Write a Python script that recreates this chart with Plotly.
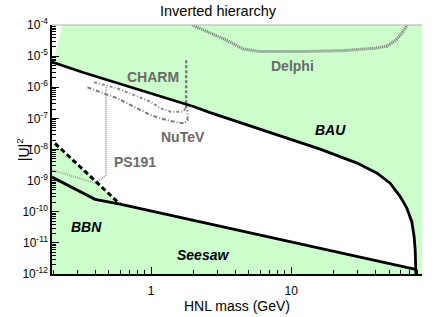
import math
import plotly.graph_objects as go

# ---------------- data ----------------
# BAU upper boundary of the allowed (white) region
bau_x = [0.196, 0.332, 2.03, 2.64, 16.1, 20.0, 29.6, 41.1, 50.9, 60.1, 67.0, 72.8, 75.6, 76.9, 77.8]
bau_y = [6.45e-6, 2.92e-6, 2.36e-7, 1.53e-7, 1.03e-8, 7.1e-9, 3.66e-9, 1.74e-9, 8.3e-10,
         3.06e-10, 1.31e-10, 4.7e-11, 1.56e-11, 5.8e-12, 1e-12]

# Seesaw lower boundary
seesaw_x = [0.196, 0.398, 0.60, 77.3]
seesaw_y = [1.30e-9, 2.5e-10, 1.75e-10, 1.4e-12]

# BBN (dashed)
bbn_x = [0.206, 0.60]
bbn_y = [1.57e-8, 1.75e-10]

# PS191 (dotted)
ps191_x = [0.196, 0.398, 0.477, 0.477]
ps191_y = [2.2e-9, 8.3e-10, 1.5e-9, 1.09e-6]

# CHARM contour + vertical dashed piece
charm_x = [0.392, 0.462, 0.574, 0.756, 0.995, 1.17, 1.38, 1.68, 1.77]
charm_y = [1.44e-6, 1.18e-6, 9.2e-7, 5.6e-7, 3.4e-7, 2.1e-7, 1.63e-7, 1.63e-7, 2.1e-7]
charm_v_x = [1.78, 1.78]
charm_v_y = [2.1e-7, 7.5e-6]

# NuTeV contour
nutev_x = [0.351, 0.462, 0.574, 0.756, 0.995, 1.17, 1.46, 1.72, 1.82, 1.82]
nutev_y = [9.9e-7, 6.4e-7, 4.4e-7, 2.36e-7, 1.28e-7, 1.0e-7, 7.8e-8, 6.9e-8, 8.8e-8, 1.85e-7]

# Delphi (dotted)
delphi_x = [1.96, 2.64, 3.38, 4.54, 6.0, 11.6, 23.5, 39.8, 48.5, 56.2, 62.1, 67.4]
delphi_y = [1e-4, 5.5e-5, 3.4e-5, 1.7e-5, 1.4e-5, 1.4e-5, 1.5e-5, 1.8e-5, 2.1e-5, 3.3e-5, 5.5e-5, 1e-4]

# small unexcluded corner at top-left
corner_x = [0.196, 0.231, 0.222, 0.212, 0.200, 0.196]
corner_y = [1e-4, 1e-4, 4.1e-5, 1.82e-5, 8.7e-6, 8.0e-6]

# axis ticks
x_tick_vals = [1, 10]
x_tick_text = ["1", "10"]
y_exponents = [-12, -11, -10, -9, -8, -7, -6, -5, -4]

# labels
labels = [
    ("CHARM", 1.03, 2.1e-6, "#6a6a6a", False),
    ("NuTeV", 1.69, 2.5e-8, "#6a6a6a", False),
    ("PS191", 0.77, 3.9e-9, "#6a6a6a", False),
    ("Delphi", 10.2, 4.8e-6, "#6a6a6a", False),
    ("BAU", 19.0, 4.2e-8, "black", True),
    ("BBN", 0.343, 3.2e-11, "black", True),
    ("Seesaw", 2.33, 4.0e-12, "black", True),
]

x_range = [0.196, 86.0]
y_range = [1e-12, 1e-4]

GREEN = "#ccffcc"

fig = go.Figure()

# white (allowed) region: BAU down, seesaw back, BBN up, left edge
poly_x = bau_x[:-2] + seesaw_x[::-1][:-1] + bbn_x[::-1] + [bau_x[0]]
poly_y = bau_y[:-2] + seesaw_y[::-1][:-1] + bbn_y[::-1] + [bbn_y[0]]
fig.add_trace(go.Scatter(x=poly_x, y=poly_y, fill="toself", fillcolor="white",
                         line=dict(width=0), mode="lines", hoverinfo="skip"))
fig.add_trace(go.Scatter(x=corner_x, y=corner_y, fill="toself", fillcolor="white",
                         line=dict(width=0), mode="lines", hoverinfo="skip"))

# experimental curves
fig.add_trace(go.Scatter(x=delphi_x, y=delphi_y, mode="lines",
                         line=dict(color="#6e6e6e", width=3, dash="1px,1px")))
fig.add_trace(go.Scatter(x=ps191_x, y=ps191_y, mode="lines",
                         line=dict(color="#a8a8a8", width=2, dash="1px,1px")))
fig.add_trace(go.Scatter(x=charm_x, y=charm_y, mode="lines",
                         line=dict(color="#8a8a8a", width=2, dash="3px,2px,1px,2px")))
fig.add_trace(go.Scatter(x=charm_v_x, y=charm_v_y, mode="lines",
                         line=dict(color="#7a7a7a", width=2.5, dash="3px,2px")))
fig.add_trace(go.Scatter(x=nutev_x, y=nutev_y, mode="lines",
                         line=dict(color="#7a7a7a", width=2, dash="4px,2px,1px,2px")))

# theory boundaries
fig.add_trace(go.Scatter(x=bau_x, y=bau_y, mode="lines", line=dict(color="black", width=2.8)))
fig.add_trace(go.Scatter(x=seesaw_x, y=seesaw_y, mode="lines", line=dict(color="black", width=2.8)))
fig.add_trace(go.Scatter(x=bbn_x, y=bbn_y, mode="lines",
                         line=dict(color="black", width=3, dash="5px,3px")))

for txt, lx, ly, col, ital in labels:
    t = f"<b><i>{txt}</i></b>" if ital else f"<b>{txt}</b>"
    fig.add_annotation(x=math.log10(lx), y=math.log10(ly), text=t, showarrow=False,
                       font=dict(size=14, color=col, family="Liberation Sans, Arial, sans-serif"))

fig.add_annotation(xref="paper", yref="paper", x=-0.109, y=0.5, text="|U|<sup>2</sup>",
                   textangle=-90, showarrow=False, font=dict(size=14, color="black"))

fig.add_shape(type="line", xref="paper", yref="paper", x0=0, x1=1, y0=1, y1=1,
              line=dict(color="#b0b0b0", width=1))

minor_x = [m * 10.0 ** e for e in (-1, 0, 1) for m in range(2, 10)]
minor_y = [m * 10.0 ** e for e in range(-12, -4) for m in range(2, 10)]

fig.update_layout(
    width=436, height=317,
    margin=dict(l=52, r=14, t=25, b=43, autoexpand=False),
    plot_bgcolor=GREEN, paper_bgcolor="white",
    showlegend=False,
    font=dict(family="Liberation Sans, Arial, sans-serif", color="black"),
    title=dict(text="Inverted hierarchy", x=0.5, xanchor="center", y=1 - 11 / 317,
               yanchor="middle", font=dict(size=14.5), automargin=False),
    xaxis=dict(type="log", range=[math.log10(v) for v in x_range], automargin=False,
               tickmode="array", tickvals=x_tick_vals, ticktext=x_tick_text,
               ticks="inside", ticklen=7, ticklabelstandoff=5,
               tickcolor="black", showline=True, linecolor="black", linewidth=1.5,
               showgrid=False, zeroline=False, tickfont=dict(size=12),
               minor=dict(tickvals=minor_x, ticks="inside", ticklen=4, tickcolor="black",
                          showgrid=False),
               title=dict(text="HNL mass (GeV)", font=dict(size=14), standoff=0)),
    yaxis=dict(type="log", range=[math.log10(v) for v in y_range], automargin=False,
               tickmode="array",
               tickvals=[10.0 ** e for e in y_exponents],
               ticktext=[f"10<sup>{e}</sup>" for e in y_exponents],
               ticks="inside", ticklen=7, tickcolor="black", showline=True,
               linecolor="black", linewidth=1.5, showgrid=False, zeroline=False,
               tickfont=dict(size=12),
               minor=dict(tickvals=minor_y, ticks="inside", ticklen=4, tickcolor="black",
                          showgrid=False)),
)

fig.write_html("out.html", config={"displayModeBar": False},
               post_script="document.body.style.margin='0';document.body.style.overflow='hidden';")
